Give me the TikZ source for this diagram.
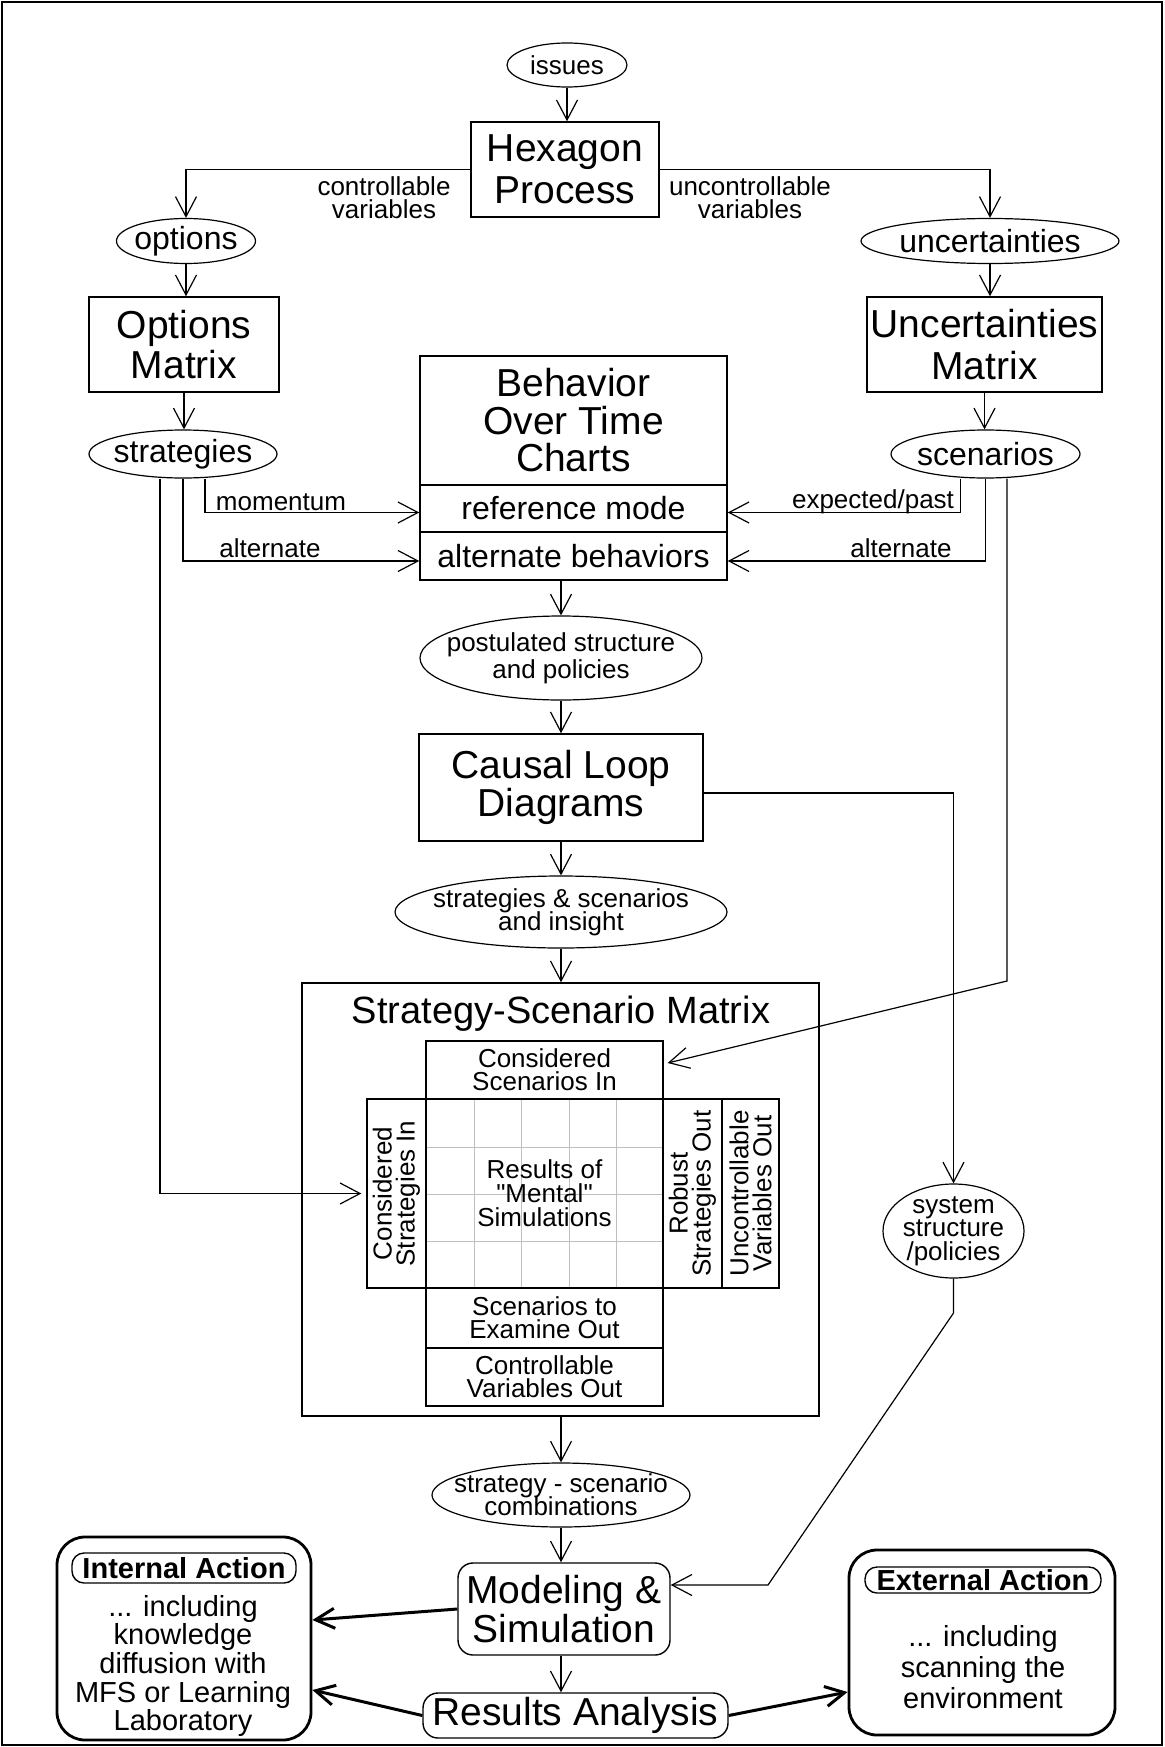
\documentclass[tikz,border=0pt]{standalone}
\usepackage{fontspec}
\setmainfont{Liberation Sans}
% same face without the TeX ligature mapping, for straight quotes
\newfontfamily\qfont{Liberation Sans}
\usetikzlibrary{shapes.geometric,arrows.meta}

% font size / exact baseline skip
\newcommand\fs[2]{\fontsize{#1}{#2}\selectfont\lineskiplimit=-100pt\relax}
\newcommand\sq{{\qfont"}}

\begin{document}
\begin{tikzpicture}[x=1pt,y=-1pt,
  box/.style={draw, line width=1.5pt, inner sep=0pt, align=center},
  ell/.style={ellipse, draw, line width=1.2pt, inner sep=-100pt, align=center},
  cell/.style={draw, line width=1.3pt, inner sep=0pt, align=center, font={\fs{26}{23}}},
  rbox/.style={draw, line width=1.4pt, rounded corners=15pt, inner sep=0pt, align=center},
  act/.style={draw, line width=2.8pt, rounded corners=28pt, inner sep=0pt},
  lbl/.style={inner sep=0pt, align=center, font={\fs{26}{23}}},
  conn/.style={line width=1.2pt},
  arr/.style={conn, -{Straight Barb[length=20pt,width=21pt]}},
  tarr/.style={line width=3pt, -{Straight Barb[length=19pt,width=20pt]}},
  gridline/.style={line width=1pt, draw=black!25}
]
\useasboundingbox (0,0) rectangle (1164,1747);
\draw[line width=2pt] (2,2) rectangle (1162,1745);

% top: issues and hexagon process
\node[ell, font={\fs{26}{26}}, minimum width=120pt, minimum height=44pt] (issues) at (567,65) {issues};
\node[box, font={\fs{39}{42}}, minimum width=188pt, minimum height=95pt] (hex) at (565,169.5) {Hexagon\\Process};
\node[lbl] (ctl) at (384,197.5) {controllable\\variables};
\node[lbl] (unctl) at (750,197.5) {uncontrollable\\variables};

% left column
\node[ell, font={\fs{32}{32}}, minimum width=139pt, minimum height=45pt] (opt) at (186,241) {options};
\node[box, font={\fs{39}{40}}, minimum width=190pt, minimum height=95pt] (optm) at (184,344.5) {Options\\Matrix};
\node[ell, font={\fs{32}{32}}, minimum width=188pt, minimum height=48pt] (strat) at (183,454) {strategies};

% right column
\node[ell, font={\fs{32}{32}}, minimum width=258pt, minimum height=45pt] (unc) at (990,241) {uncertainties};
\node[box, font={\fs{39}{42}}, minimum width=235pt, minimum height=95pt] (uncm) at (984.5,344.5) {Uncertainties\\Matrix};
\node[ell, font={\fs{32}{32}}, minimum width=189pt, minimum height=48pt] (scen) at (985.5,454) {scenarios};

% behavior over time charts
\node[box, font={\fs{39}{37.5}}, minimum width=307pt, minimum height=129pt] (boc) at (573.5,420.5) {Behavior\\Over Time\\Charts};
\node[box, font={\fs{32}{32}}, minimum width=307pt, minimum height=47pt] (refm) at (573.5,508.5) {reference mode};
\node[box, font={\fs{32}{32}}, minimum width=307pt, minimum height=48pt] (altb) at (573.5,556) {alternate behaviors};
\node[lbl, anchor=base] (mom) at (281,510) {momentum};
\node[lbl, anchor=base] (altl) at (270,557) {alternate};
\node[lbl, anchor=base] (expp) at (873,508) {expected/past};
\node[lbl, anchor=base] (altr) at (901,557) {alternate};

% middle column
\node[ell, font={\fs{26}{27}}, minimum width=282pt, minimum height=84pt] (post) at (561,658) {postulated structure\\and policies};
\node[box, font={\fs{39}{38}}, minimum width=284pt, minimum height=107pt] (cld) at (561,787.5) {Causal Loop\\Diagrams};
\node[ell, font={\fs{26}{23}}, minimum width=332pt, minimum height=72pt] (ssi) at (561,912) {strategies \& scenarios\\and insight};

% strategy-scenario matrix
\node[box, minimum width=517pt, minimum height=433pt] (ssm) at (560.5,1199.5) {};
\node[lbl, anchor=base, font={\fs{38}{38}}] (ssmt) at (561,1023) {Strategy-Scenario Matrix};
\foreach \gx in {474,521,569,616} \draw[gridline] (\gx,1099) -- (\gx,1288);
\foreach \gy in {1147,1194,1241} \draw[gridline] (426,\gy) -- (663,\gy);
\node[cell, minimum width=237pt, minimum height=189pt] (grid) at (544.5,1193.5) {};
\node[lbl, font={\fs{26}{24}}] (res) at (544.5,1193.5) {Results of\\\sq Mental\sq\\Simulations};
\node[cell, minimum width=237pt, minimum height=58pt] (csi) at (544.5,1070) {Considered\\Scenarios In};
\node[cell, rotate=90, minimum width=189pt, minimum height=59pt] (cstr) at (396.5,1193.5) {Considered\\Strategies In};
\node[cell, rotate=90, minimum width=189pt, minimum height=59pt] (rob) at (692.5,1193.5) {Robust\\Strategies Out};
\node[cell, rotate=90, minimum width=189pt, minimum height=57pt] (uvo) at (750.5,1193.5) {Uncontrollable\\Variables Out};
\node[cell, minimum width=237pt, minimum height=60pt] (sex) at (544.5,1318) {Scenarios to\\Examine Out};
\node[cell, minimum width=237pt, minimum height=58pt] (cvo) at (544.5,1377) {Controllable\\Variables Out};

% system structure
\node[ell, font={\fs{26}{23.5}}, minimum width=141pt, minimum height=94pt] (sys) at (953.5,1231) {system\\structure\\/policies};

% bottom
\node[ell, font={\fs{26}{23}}, minimum width=258pt, minimum height=64pt] (comb) at (561,1495) {strategy - scenario\\combinations};
\node[rbox, font={\fs{39}{39}}, minimum width=212pt, minimum height=92pt] (model) at (564,1609) {Modeling \&\\Simulation};
\node[rbox, font={\fs{39}{39}}, minimum width=305pt, minimum height=45pt] (resan) at (575.5,1715.5) {Results Analysis};

\node[act, minimum width=254pt, minimum height=203pt] (intl) at (184,1638.5) {};
\node[rbox, rounded corners=12pt, font={\bfseries\fs{29}{29}}, minimum width=224pt, minimum height=30pt] (intlt) at (184,1568) {Internal Action};
\node[lbl, font={\fs{29}{28.7}}] (intlb) at (183,1666) {... including\\knowledge\\diffusion with\\MFS or Learning\\Laboratory};

\node[act, minimum width=266pt, minimum height=185pt] (extl) at (982,1642.5) {};
\node[rbox, rounded corners=12pt, font={\bfseries\fs{29}{29}}, minimum width=236pt, minimum height=26pt] (extlt) at (983,1580) {External Action};
\node[lbl, font={\fs{29}{31}}] (extlb) at (983,1667) {... including\\scanning the\\environment};

% connectors
\draw[arr] (issues.south) -- (hex.north -| issues.south);
\draw[arr] (hex.west) -| (opt.north);
\draw[arr] (hex.east) -| (unc.north);
\draw[arr] (opt.south) -- (opt.south |- optm.north);
\draw[arr] (optm.south) -- (optm.south |- strat.north);
\draw[arr] (unc.south) -- (unc.south |- uncm.north);
\draw[arr] (uncm.south) -- (uncm.south |- scen.north);

\draw[arr] ([xshift=22pt]strat.south) |- ([yshift=-4pt]refm.west);
\draw[arr] (strat.south) |- ([yshift=-5pt]altb.west);
\draw[arr] ([xshift=-23pt]strat.south) |- ([xshift=-5pt]cstr.north);
\draw[arr] ([xshift=-25pt]scen.south) |- ([yshift=-4pt]refm.east);
\draw[arr] (scen.south) |- ([yshift=-5pt]altb.east);
\coordinate (sb) at (1007,981);
\draw[arr] ([xshift=21.5pt]scen.south) -- (sb) -- ([xshift=4pt,yshift=7pt]csi.east);

\draw[arr] (altb.south -| post.north) -- (post.north);
\draw[arr] (post.south) -- (cld.north);
\draw[arr] (cld.south) -- (ssi.north);
\draw[arr] (ssi.south) -- (ssm.north -| ssi.south);
\draw[arr] ([yshift=-5.5pt]cld.east) -| (sys.north);

\draw[arr] (ssm.south -| comb.north) -- (comb.north);
\draw[arr] (comb.south) -- (comb.south |- model.north);
\draw[arr] (comb.south |- model.south) -- (comb.south |- resan.north);
\coordinate (s1) at (953.5,1313);
\coordinate (s2) at (768,1585);
\draw[arr] (sys.south) -- (s1) -- (s2) -- (s2 -| model.east);

\draw[tarr] (model.west) -- ([yshift=18.5pt]intl.east);
\draw[tarr] (resan.west) -- ([yshift=-51.5pt]intl.east);
\draw[tarr] (resan.east) -- ([yshift=-49.5pt]extl.west);
\end{tikzpicture}
\end{document}
